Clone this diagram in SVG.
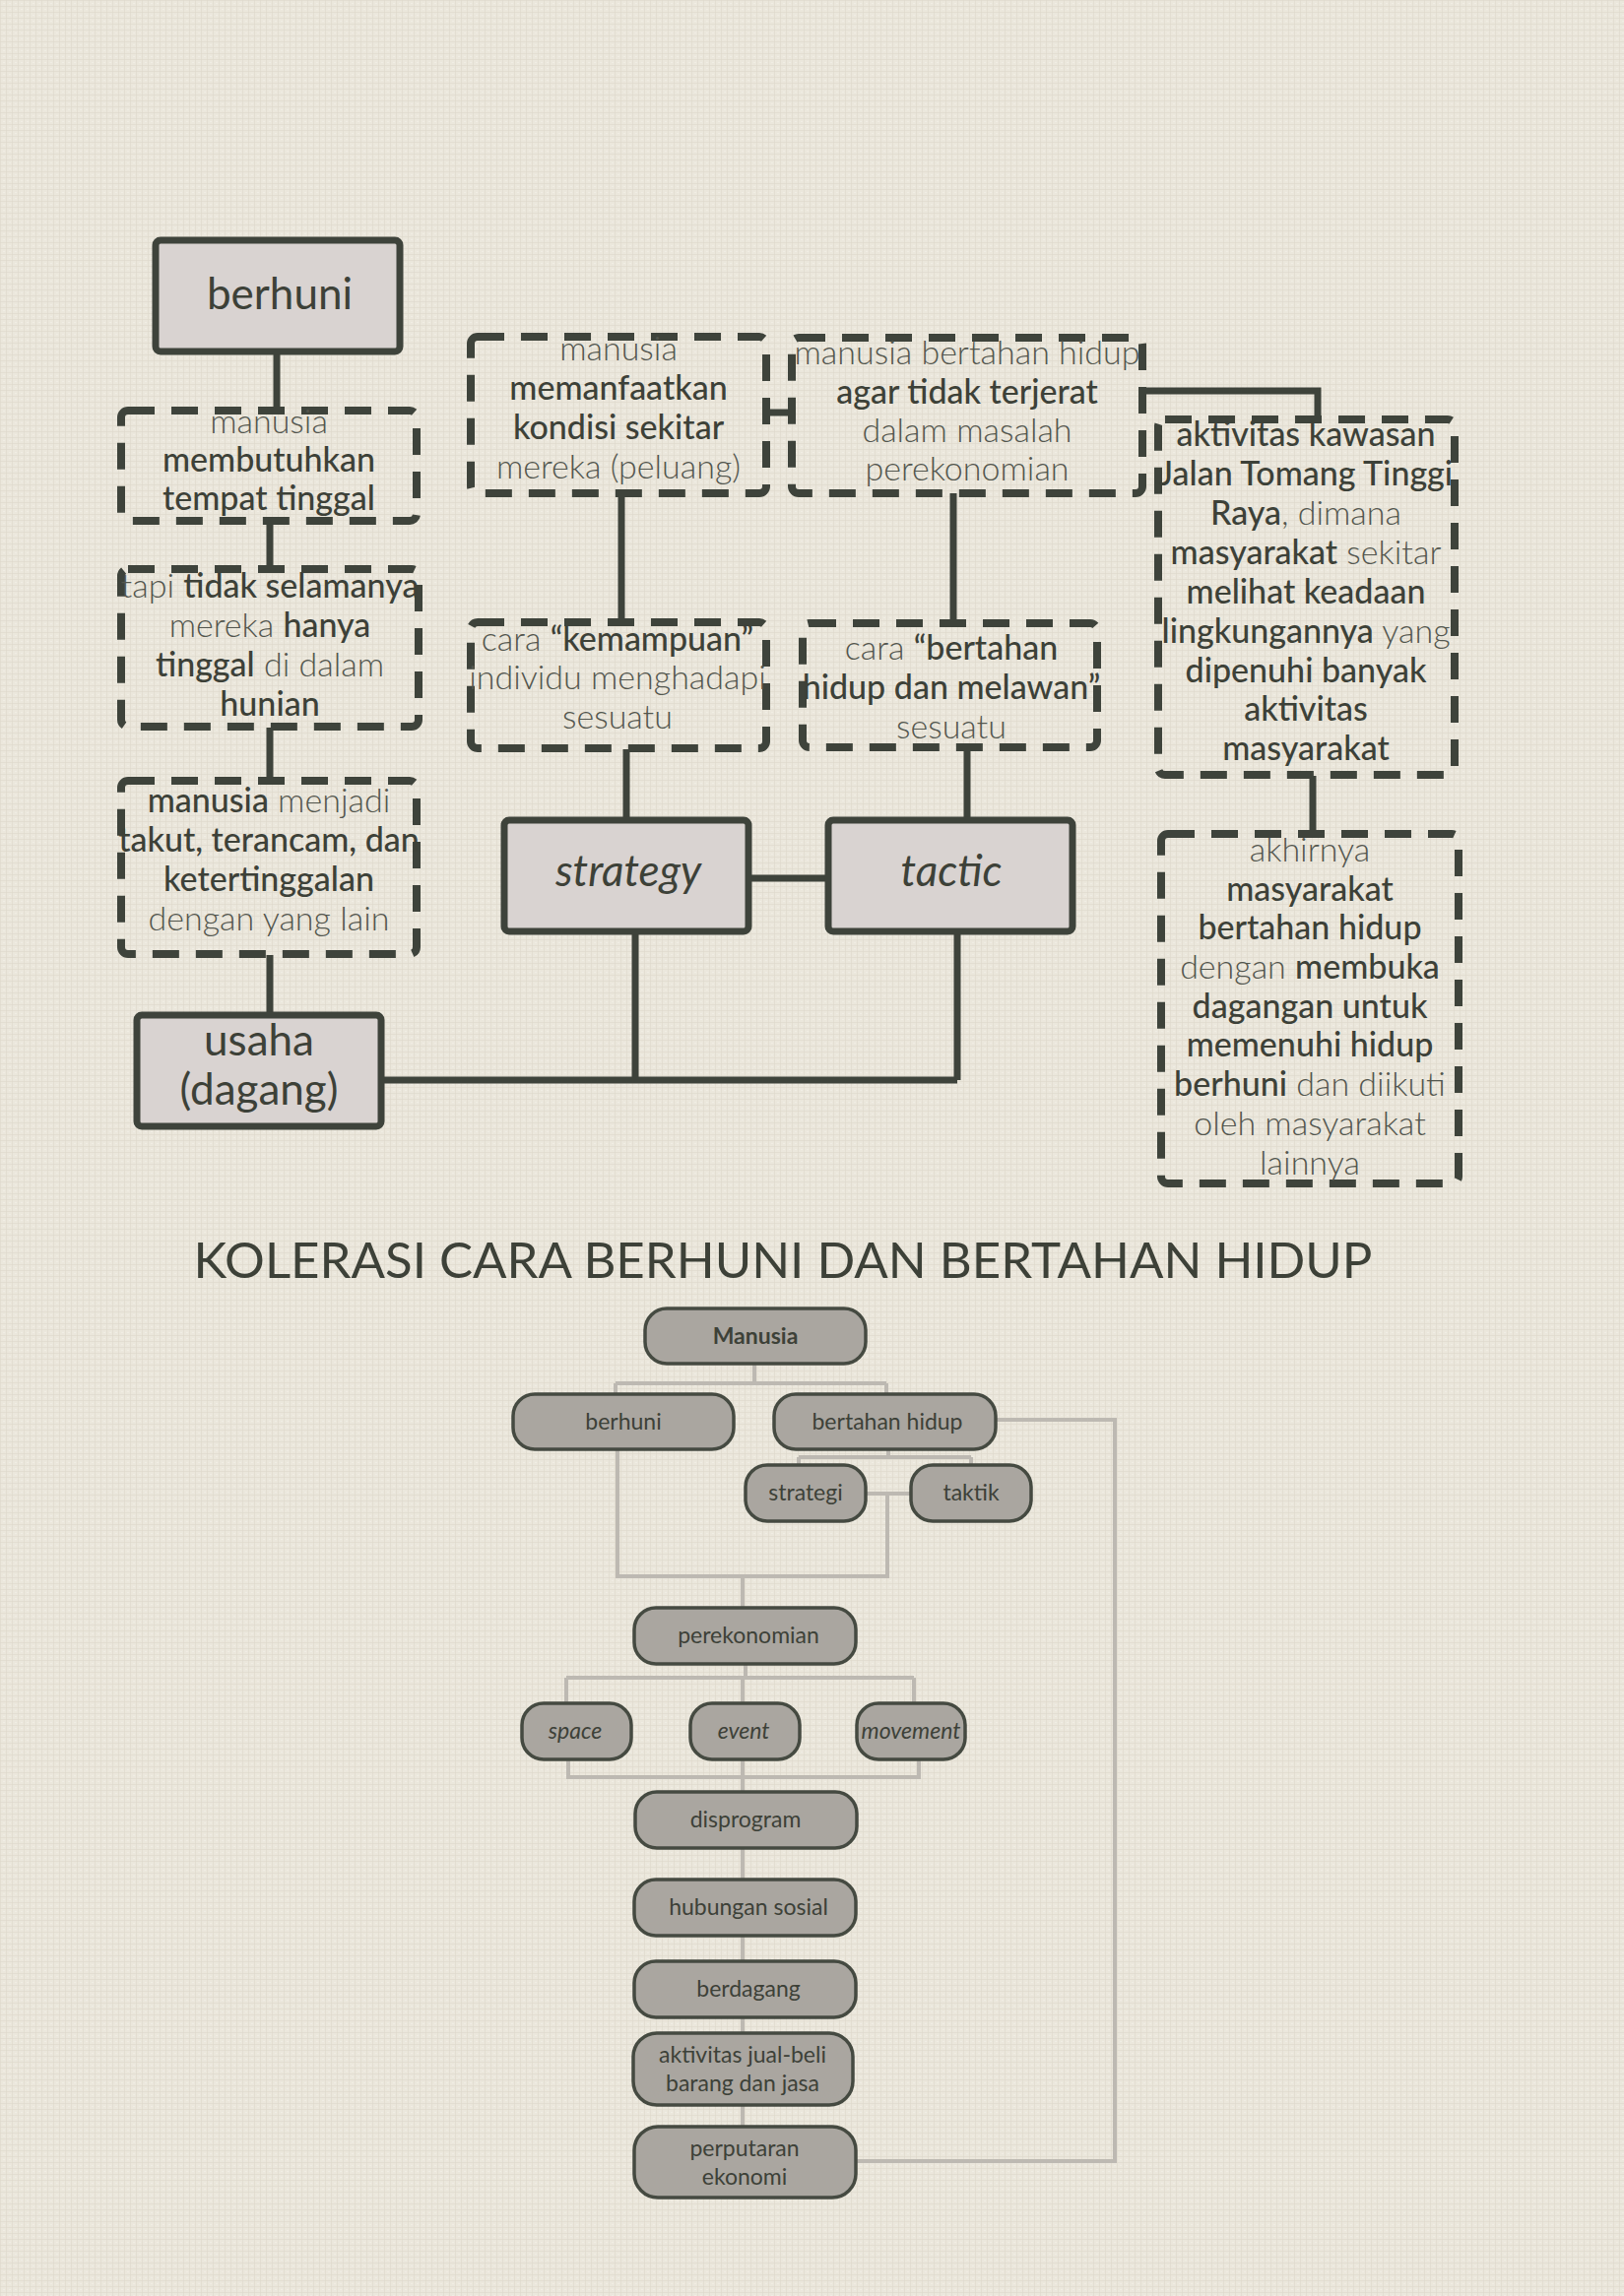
<svg xmlns="http://www.w3.org/2000/svg" width="1649" height="2332" viewBox="0 0 1649 2332">
<defs>
<pattern id="linen" width="6" height="6" patternUnits="userSpaceOnUse">
<rect width="6" height="6" fill="#ebe7dc"/>
<rect x="0" y="0" width="6" height="1" fill="#ddd8cb" opacity="0.6"/>
<rect x="0" y="0" width="1" height="6" fill="#ddd8cb" opacity="0.6"/>
<rect x="3" y="3" width="2" height="1" fill="#f3f0e8" opacity="0.7"/>
</pattern>
<style>
.solid{fill:#d9d3d1;stroke:#3e433b;stroke-width:7}
.dash{fill:none;stroke:#3e433b;stroke-width:8;stroke-dasharray:27 17}
.con{fill:none;stroke:#3e433b;stroke-width:7}
.t{font-family:Lato,"Liberation Sans",sans-serif;font-size:34px;fill:#3d4138;text-anchor:middle}
.l{font-weight:300;fill:#53564e}
.b{font-weight:500}
.big{font-family:Lato,"Liberation Sans",sans-serif;font-size:44px;fill:#3d4138;text-anchor:middle}
.it{font-style:italic}
.title{font-family:Lato,"Liberation Sans",sans-serif;font-size:50px;fill:#3d4138;text-anchor:middle;font-weight:400}
.pill{fill:#aaa6a0;stroke:#454a41;stroke-width:3.5}
.fl{font-family:Lato,"Liberation Sans",sans-serif;font-size:23px;fill:#3d4138;text-anchor:middle}
.fc{fill:none;stroke:#bdb9b2;stroke-width:4}
</style>
</defs>
<rect width="1649" height="2332" fill="url(#linen)"/>

<g id="connectors-top">
<path class="con" d="M281 358V416"/>
<path class="con" d="M274 529V577"/>
<path class="con" d="M274 739V792"/>
<path class="con" d="M274 970V1029"/>
<path class="con" d="M388 1097H972M645 947V1097M972 947V1097"/>
<path class="con" d="M761 892H840"/>
<path class="con" d="M636 761V831"/>
<path class="con" d="M982 761V831"/>
<path class="con" d="M631 501V631"/>
<path class="con" d="M968 501V632"/>
<path class="con" d="M779 419H803"/>
<path class="con" d="M1161 397H1338V425"/>
<path class="con" d="M1333 788V846"/>
</g>

<g id="n-berhuni">
<rect class="solid" x="158" y="244" width="248" height="113" rx="5"/>
<text class="big" x="284" y="314">berhuni</text>
</g>

<g id="n-membutuhkan">
<rect class="dash" x="123" y="417" width="300" height="112" rx="7"/>
<text class="t" x="273" y="440"><tspan class="l">manusia</tspan></text>
<text class="t" x="273" y="479"><tspan class="b">membutuhkan</tspan></text>
<text class="t" x="273" y="518"><tspan class="b">tempat tinggal</tspan></text>
</g>

<g id="n-tidak-selamanya">
<rect class="dash" x="123" y="578" width="302" height="160" rx="7"/>
<text class="t" x="274" y="607"><tspan class="l">tapi </tspan><tspan class="b">tidak selamanya</tspan></text>
<text class="t" x="274" y="647"><tspan class="l">mereka </tspan><tspan class="b">hanya</tspan></text>
<text class="t" x="274" y="687"><tspan class="b">tinggal</tspan><tspan class="l"> di dalam</tspan></text>
<text class="t" x="274" y="727"><tspan class="b">hunian</tspan></text>
</g>

<g id="n-takut">
<rect class="dash" x="123" y="793" width="300" height="176" rx="7"/>
<text class="t" x="273" y="825"><tspan class="b">manusia</tspan><tspan class="l"> menjadi</tspan></text>
<text class="t" x="273" y="865"><tspan class="b">takut, terancam, dan</tspan></text>
<text class="t" x="273" y="905"><tspan class="b">ketertinggalan</tspan></text>
<text class="t" x="273" y="945"><tspan class="l">dengan yang lain</tspan></text>
</g>

<g id="n-usaha">
<rect class="solid" x="139" y="1031" width="248" height="113" rx="5"/>
<text class="big" x="263" y="1072">usaha</text>
<text class="big" x="263" y="1122">(dagang)</text>
</g>

<g id="n-memanfaatkan">
<rect class="dash" x="478" y="342" width="300" height="159" rx="7"/>
<text class="t" x="628" y="366"><tspan class="l">manusia</tspan></text>
<text class="t" x="628" y="406"><tspan class="b">memanfaatkan</tspan></text>
<text class="t" x="628" y="446"><tspan class="b">kondisi sekitar</tspan></text>
<text class="t" x="628" y="486"><tspan class="l">mereka (peluang)</tspan></text>
</g>

<g id="n-kemampuan">
<rect class="dash" x="478" y="632" width="300" height="128" rx="7"/>
<text class="t" x="627" y="661"><tspan class="l">cara </tspan><tspan class="b">“kemampuan”</tspan></text>
<text class="t" x="627" y="700"><tspan class="l">individu menghadapi</tspan></text>
<text class="t" x="627" y="740"><tspan class="l">sesuatu</tspan></text>
</g>

<g id="n-strategy">
<rect class="solid" x="512" y="833" width="248" height="113" rx="5"/>
<text class="big it" x="638" y="900">strategy</text>
</g>

<g id="n-tactic">
<rect class="solid" x="841" y="833" width="248" height="113" rx="5"/>
<text class="big it" x="966" y="900">tactic</text>
</g>

<g id="n-bertahan">
<rect class="dash" x="804" y="343" width="356" height="158" rx="7"/>
<text class="t" x="982" y="370"><tspan class="l">manusia bertahan hidup</tspan></text>
<text class="t" x="982" y="410"><tspan class="b">agar tidak terjerat</tspan></text>
<text class="t" x="982" y="449"><tspan class="l">dalam  masalah</tspan></text>
<text class="t" x="982" y="488"><tspan class="l">perekonomian</tspan></text>
</g>

<g id="n-cara-bertahan">
<rect class="dash" x="815" y="633" width="299" height="126" rx="7"/>
<text class="t" x="966" y="670"><tspan class="l">cara </tspan><tspan class="b">“bertahan</tspan></text>
<text class="t" x="966" y="710"><tspan class="b">hidup dan melawan”</tspan></text>
<text class="t" x="966" y="750"><tspan class="l">sesuatu</tspan></text>
</g>

<g id="n-aktivitas">
<rect class="dash" x="1176" y="426" width="301" height="361" rx="7"/>
<text class="t" x="1326" y="453"><tspan class="b">aktivitas kawasan</tspan></text>
<text class="t" x="1326" y="493"><tspan class="b">Jalan Tomang Tinggi</tspan></text>
<text class="t" x="1326" y="533"><tspan class="b">Raya</tspan><tspan class="l">, dimana</tspan></text>
<text class="t" x="1326" y="573"><tspan class="b">masyarakat</tspan><tspan class="l"> sekitar</tspan></text>
<text class="t" x="1326" y="613"><tspan class="b">melihat keadaan</tspan></text>
<text class="t" x="1326" y="653"><tspan class="b">lingkungannya</tspan><tspan class="l"> yang</tspan></text>
<text class="t" x="1326" y="693"><tspan class="b">dipenuhi banyak</tspan></text>
<text class="t" x="1326" y="732"><tspan class="b">aktivitas</tspan></text>
<text class="t" x="1326" y="772"><tspan class="b">masyarakat</tspan></text>
</g>

<g id="n-akhirnya">
<rect class="dash" x="1179" y="847" width="302" height="355" rx="7"/>
<text class="t" x="1330" y="875"><tspan class="l">akhirnya</tspan></text>
<text class="t" x="1330" y="915"><tspan class="b">masyarakat</tspan></text>
<text class="t" x="1330" y="954"><tspan class="b">bertahan hidup</tspan></text>
<text class="t" x="1330" y="994"><tspan class="l">dengan </tspan><tspan class="b">membuka</tspan></text>
<text class="t" x="1330" y="1034"><tspan class="b">dagangan untuk</tspan></text>
<text class="t" x="1330" y="1073"><tspan class="b">memenuhi hidup</tspan></text>
<text class="t" x="1330" y="1113"><tspan class="b">berhuni</tspan><tspan class="l"> dan diikuti</tspan></text>
<text class="t" x="1330" y="1153"><tspan class="l">oleh masyarakat</tspan></text>
<text class="t" x="1330" y="1193"><tspan class="l">lainnya</tspan></text>
</g>

<text id="title" class="title" x="795" y="1298" textLength="1197" lengthAdjust="spacingAndGlyphs">KOLERASI CARA BERHUNI DAN BERTAHAN HIDUP</text>

<g id="connectors-flow">
<path class="fc" d="M766 1385V1405M625 1405H900M625 1405V1416M900 1405V1416"/>
<path class="fc" d="M1011 1442H1132V2195H870"/>
<path class="fc" d="M902 1473V1480M811 1480H986M811 1480V1488M986 1480V1488"/>
<path class="fc" d="M879 1517H925M901 1517V1601H627V1473M754 1601V1633"/>
<path class="fc" d="M757 1690V1704M575 1704H928M575 1704V1730M928 1704V1730M754 1704V1730"/>
<path class="fc" d="M577 1787V1805H933V1787M754 1787V2160"/>
</g>

<g id="f-manusia"><rect class="pill" x="655" y="1329" width="224" height="56" rx="22"/><text class="fl" x="767" y="1365" font-weight="700">Manusia</text></g>
<g id="f-berhuni"><rect class="pill" x="521" y="1416" width="224" height="56" rx="22"/><text class="fl" x="633" y="1452">berhuni</text></g>
<g id="f-bertahan"><rect class="pill" x="786" y="1416" width="225" height="56" rx="22"/><text class="fl" x="901" y="1452">bertahan hidup</text></g>
<g id="f-strategi"><rect class="pill" x="757" y="1488" width="122" height="57" rx="22"/><text class="fl" x="818" y="1524">strategi</text></g>
<g id="f-taktik"><rect class="pill" x="925" y="1488" width="122" height="57" rx="22"/><text class="fl" x="986" y="1524">taktik</text></g>
<g id="f-perekonomian"><rect class="pill" x="644" y="1633" width="225" height="57" rx="22"/><text class="fl" x="760" y="1669">perekonomian</text></g>
<g id="f-space"><rect class="pill" x="530" y="1730" width="111" height="57" rx="22"/><text class="fl it" x="584" y="1766">space</text></g>
<g id="f-event"><rect class="pill" x="701" y="1730" width="111" height="57" rx="22"/><text class="fl it" x="755" y="1766">event</text></g>
<g id="f-movement"><rect class="pill" x="870" y="1730" width="110" height="57" rx="22"/><text class="fl it" x="925" y="1766">movement</text></g>
<g id="f-disprogram"><rect class="pill" x="645" y="1820" width="225" height="57" rx="22"/><text class="fl" x="757" y="1856">disprogram</text></g>
<g id="f-hubungan"><rect class="pill" x="644" y="1909" width="225" height="57" rx="22"/><text class="fl" x="760" y="1945">hubungan sosial</text></g>
<g id="f-berdagang"><rect class="pill" x="644" y="1992" width="225" height="57" rx="22"/><text class="fl" x="760" y="2028">berdagang</text></g>
<g id="f-aktivitas"><rect class="pill" x="643" y="2065" width="223" height="73" rx="24"/><text class="fl" x="754" y="2095">aktivitas jual-beli</text><text class="fl" x="754" y="2124">barang dan jasa</text></g>
<g id="f-perputaran"><rect class="pill" x="644" y="2160" width="225" height="72" rx="24"/><text class="fl" x="756" y="2190">perputaran</text><text class="fl" x="756" y="2219">ekonomi</text></g>
</svg>
